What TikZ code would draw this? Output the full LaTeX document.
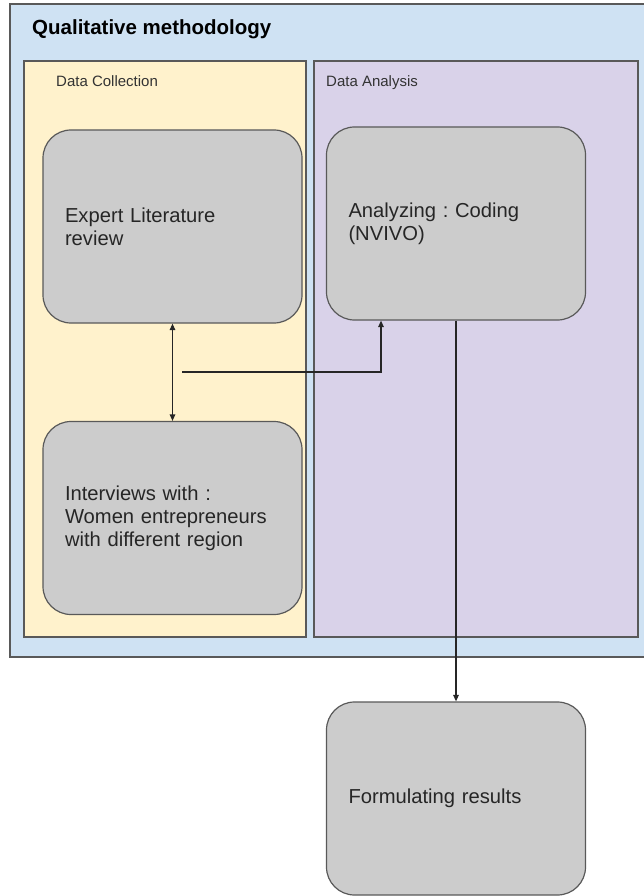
\documentclass[tikz,border=0pt]{standalone}
\usepackage{fontspec}
\setmainfont{Liberation Sans}
\usetikzlibrary{arrows.meta}
\frenchspacing

\definecolor{outerblue}{HTML}{CFE2F3}
\definecolor{collectyellow}{HTML}{FFF2CC}
\definecolor{analysispurple}{HTML}{D9D2E9}
\definecolor{stepgray}{HTML}{CCCCCC}
\definecolor{edgegray}{HTML}{595959}

\tikzset{
  panel/.style={draw=edgegray, line width=1.5pt, inner sep=0pt},
  stepbox/.style={draw=edgegray, fill=stepgray, line width=1.2pt,
    rounded corners=28pt, minimum width=259pt, minimum height=193pt,
    text width=215pt, inner xsep=22pt, inner ysep=0pt, align=left,
    font=\fontsize{20.2}{23}\selectfont, text=black!85},
  panellabel/.style={anchor=base west, inner sep=0pt,
    font=\fontsize{15}{17}\selectfont, text=black!80},
  tip/.style={Triangle[length=6.5pt,width=5.5pt]},
  link/.style={draw=black!85, line width=1.2pt, -{Triangle[length=6.5pt,width=5.5pt]}},
}

\begin{document}
\begin{tikzpicture}[x=1pt,y=-1pt]
  \useasboundingbox (0,0) rectangle (644,896);
  \fill[white] (0,0) rectangle (644,896);

  % containers
  \node[panel, fill=outerblue, minimum width=642pt, minimum height=653pt]
    (outer) at (331,330.5) {};
  \node[panel, fill=collectyellow, minimum width=282pt, minimum height=576pt]
    (collect) at (165,349) {};
  \node[panel, fill=analysispurple, minimum width=324pt, minimum height=576pt]
    (analysis) at (476,349) {};

  \node[anchor=base west, inner sep=0pt, font=\bfseries\fontsize{20.5}{24}\selectfont]
    (title) at (32,35) {Qualitative methodology};
  \node[panellabel] (collectlabel) at (56,87) {Data Collection};
  \node[panellabel] (analysislabel) at (326,87) {Data Analysis};

  % steps
  \node[stepbox] (review) at (172.5,226.5) {Expert Literature\\review};
  \node[stepbox] (interviews) at (172.5,518) {Interviews with :\\Women entrepreneurs\\with different region};
  \node[stepbox] (coding) at (456,223.5) {Analyzing : Coding\\(NVIVO)};
  \node[stepbox] (results) at (456,798.5) {Formulating results};

  % connectors
  \coordinate (merge) at (182,372);
  \draw[link, {Triangle[length=6.5pt,width=5.5pt]}-{Triangle[length=6.5pt,width=5.5pt]}]
    (review.south) -- (interviews.north);
  \draw[link] (merge) -| ([xshift=-75pt]coding.south);
  \draw[link] (coding.south) -- (results.north);
\end{tikzpicture}
\end{document}
